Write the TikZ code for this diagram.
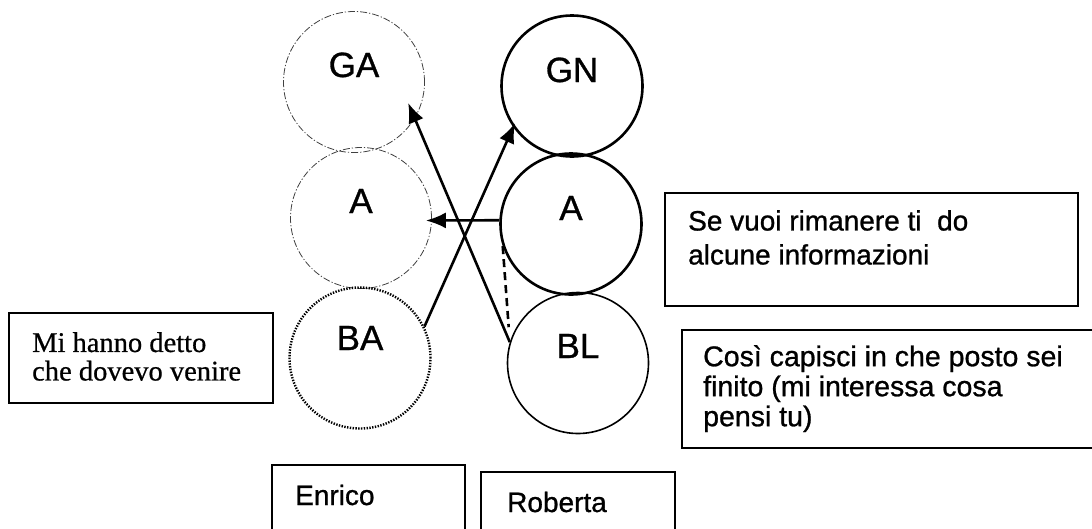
\documentclass[tikz,border=0pt]{standalone}
\usepackage{fontspec}
\setmainfont{Liberation Sans}[RawFeature={embolden=0.9}]
\newfontfamily\serifface{Liberation Serif}[RawFeature={embolden=0.6}]
\usetikzlibrary{arrows.meta}
\tikzset{
  circ/.style={circle, minimum size=141pt, inner sep=0pt, draw},
  dashdotcirc/.style={circ, draw=black!75, line width=0.8pt, dash pattern=on 7pt off 2pt on 1.2pt off 2pt},
  dotcirc/.style={circ, line width=2.4pt, dash pattern=on 1.4pt off 1.4pt},
  boldcirc/.style={circ, line width=2.6pt},
  medcirc/.style={circ, line width=1.6pt},
  clabel/.style={anchor=base, inner sep=0pt, font=\fontsize{35}{40}\selectfont},
  box/.style={rectangle, draw, line width=1.8pt, inner sep=0pt},
  btext/.style={inner sep=0pt, align=left, font=\fontsize{28}{32}\selectfont},
  arr/.style={line width=2.6pt, -{Latex[length=20pt,width=16pt]}},
  dashline/.style={line width=2.6pt, dash pattern=on 8pt off 5pt},
}
\begin{document}
\begin{tikzpicture}[x=1pt,y=-1pt]
\useasboundingbox (0,0) rectangle (1092,528);
\clip (0,0) rectangle (1092,528);

% circles
\node[dashdotcirc] (GA) at (354,82) {};
\node[dashdotcirc] (Al) at (361,218) {};
\node[dotcirc] (BA) at (360,358) {};
\node[boldcirc] (GN) at (572,86) {};
\node[boldcirc] (Ar) at (571,224) {};
\node[medcirc] (BL) at (578,363) {};

\node[clabel] (tGA) at ([yshift=5pt]GA.center) {GA};
\node[clabel] (tAl) at ([yshift=5pt]Al.center) {A};
\node[clabel] (tBA) at ([yshift=8pt]BA.center) {BA};
\node[clabel] (tGN) at ([yshift=4pt]GN.center) {GN};
\node[clabel] (tAr) at ([yshift=4pt]Ar.center) {A};
\node[clabel] (tBL) at ([yshift=5pt]BL.center) {BL};

% connectors
\draw[arr, shorten >=-17pt] (BL.163) -- (GA.-31);
\draw[arr, shorten >=-4.5pt] (BA.26) -- (GN.215);
\draw[arr, shorten >=-6pt] (Ar.177) -- (Al.-2);
\draw[dashline, shorten >=15pt] (Ar.198) -- (BL.163);

% boxes
\node[box, minimum width=264pt, minimum height=90pt] (bMi) at (141,358) {};
\node[box, minimum width=413pt, minimum height=113pt] (bSe) at (871.5,249.5) {};
\node[box, minimum width=418pt, minimum height=118pt] (bCo) at (891,389) {};
\node[box, minimum width=193pt, minimum height=75pt] (bEn) at (368.5,502.5) {};
\node[box, minimum width=194pt, minimum height=68pt] (bRo) at (578,506) {};

\node[inner sep=0pt, align=left, anchor=north west, font=\serifface\fontsize{28.5}{28.5}\selectfont] (tMi) at (32,332) {Mi hanno detto\\che dovevo venire};
\node[btext, anchor=north west, font=\fontsize{28}{34}\selectfont] (tSe) at (688,210) {Se vuoi rimanere ti\ \ do\\alcune informazioni};
\node[btext, anchor=north west, font=\fontsize{28.5}{30}\selectfont] (tCo) at (703,345) {Così capisci in che posto sei\\finito (mi interessa cosa\\pensi tu)};
\node[btext, anchor=base west] (tEn) at (295,505) {Enrico};
\node[btext, anchor=base west] (tRo) at (507,512) {Roberta};
\end{tikzpicture}
\end{document}
